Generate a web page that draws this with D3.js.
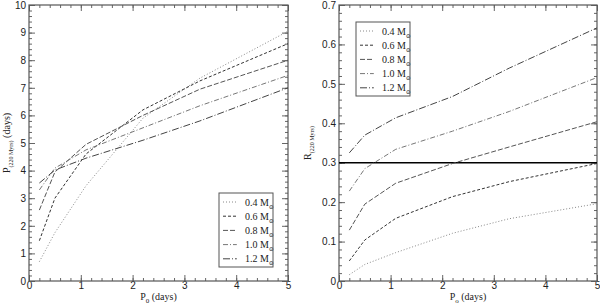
<!DOCTYPE html>
<html>
<head>
<meta charset="utf-8">
<script src="https://cdn.jsdelivr.net/npm/d3@7"></script>
<style>
  body { margin: 0; background: #fff; }
  svg { font-family: "Liberation Serif", "DejaVu Serif", serif; }
  .tick text { font-size: 10px; fill: #222; }
</style>
</head>
<body>
<svg id="chart" width="600" height="306"></svg>
<script>
// initial periods (days)
const p0 = [0.2, 0.5, 1.1, 2.2, 3.3, 5];

const masses = ['0.4', '0.6', '0.8', '1.0', '1.2'];

// P at 220 Myrs (days), one array per mass
const period04 = [0.7, 1.75, 3.45, 5.9, 7.35, 9.05];
const period06 = [1.46, 3.0, 4.6, 6.2, 7.25, 8.6];
const period08 = [2.57, 3.95, 4.95, 6.0, 6.95, 8.0];
const period10 = [3.3, 4.09, 4.75, 5.55, 6.35, 7.45];
const period12 = [3.55, 4.02, 4.45, 5.1, 5.8, 7.0];

// R at 220 Myrs
const ratio04 = [0.016, 0.042, 0.072, 0.121, 0.158, 0.196];
const ratio06 = [0.051, 0.104, 0.159, 0.214, 0.252, 0.298];
const ratio08 = [0.129, 0.195, 0.248, 0.298, 0.34, 0.404];
const ratio10 = [0.228, 0.285, 0.334, 0.38, 0.43, 0.516];
const ratio12 = [0.325, 0.37, 0.414, 0.468, 0.54, 0.642];

const rLimit = 0.3;

// line styles per mass
const styles = [
  { dash: '1,2', color: '#888' },
  { dash: '3,2', color: '#333' },
  { dash: '5,2', color: '#555' },
  { dash: '5,2,1,2', color: '#777' },
  { dash: '7,2,1,2', color: '#444' }
];

const svg = d3.select('#chart');

const panel = (opts) => {
  const g = svg.append('g');
  const x = d3.scaleLinear().domain([0, 5]).range([opts.x0, opts.x1]);
  const y = d3.scaleLinear().domain([0, opts.ymax]).range([281, 5]);

  const minorX = d3.range(0, 5.0001, 0.2);
  const minorY = d3.range(0, opts.ymax + 1e-6, opts.ystep / 5);

  // inward ticks on all four sides
  g.append('g').attr('transform', 'translate(0,281)')
    .call(d3.axisBottom(x).tickValues(minorX).tickSize(-3).tickFormat(''));
  g.append('g').attr('transform', 'translate(0,281)')
    .call(d3.axisBottom(x).ticks(5).tickSize(-6).tickPadding(1).tickFormat(d3.format('d')));
  g.append('g').attr('transform', 'translate(0,5)')
    .call(d3.axisTop(x).tickValues(minorX).tickSize(-3).tickFormat(''));
  g.append('g').attr('transform', 'translate(0,5)')
    .call(d3.axisTop(x).ticks(5).tickSize(-6).tickFormat(''));
  g.append('g').attr('transform', `translate(${opts.x0},0)`)
    .call(d3.axisLeft(y).tickValues(minorY).tickSize(-3).tickFormat(''));
  g.append('g').attr('transform', `translate(${opts.x0},0)`)
    .call(d3.axisLeft(y).tickValues(d3.range(0, opts.ymax + 1e-6, opts.ystep))
      .tickSize(-6).tickPadding(3).tickFormat(opts.fmt));
  g.append('g').attr('transform', `translate(${opts.x1},0)`)
    .call(d3.axisRight(y).tickValues(minorY).tickSize(-3).tickFormat(''));
  g.append('g').attr('transform', `translate(${opts.x1},0)`)
    .call(d3.axisRight(y).tickValues(d3.range(0, opts.ymax + 1e-6, opts.ystep))
      .tickSize(-6).tickFormat(''));

  g.selectAll('.domain').remove();
  g.selectAll('.tick line').attr('stroke', '#666');

  g.append('rect')
    .attr('x', opts.x0).attr('y', 5)
    .attr('width', opts.x1 - opts.x0).attr('height', 276)
    .attr('fill', 'none').attr('stroke', '#555').attr('stroke-width', 1.2);

  if (opts.hline !== undefined) {
    g.append('line')
      .attr('x1', x(0)).attr('x2', x(5))
      .attr('y1', y(opts.hline)).attr('y2', y(opts.hline))
      .attr('stroke', '#000').attr('stroke-width', 1.5);
  }

  const line = d3.line().x((d, i) => x(p0[i])).y(d => y(d));
  g.selectAll('.series').data(opts.series).enter()
    .append('path')
      .attr('class', 'series')
      .attr('d', d => line(d))
      .attr('fill', 'none')
      .attr('stroke', (d, i) => styles[i].color)
      .attr('stroke-dasharray', (d, i) => styles[i].dash)
      .attr('stroke-width', 1);

  // legend
  const lg = g.append('g').attr('transform', `translate(${opts.lx},${opts.ly})`);
  lg.append('rect').attr('width', opts.lw).attr('height', 74)
    .attr('fill', '#fff').attr('stroke', '#555').attr('stroke-width', 1);
  const item = lg.selectAll('.item').data(masses).enter()
    .append('g').attr('transform', (d, i) => `translate(0,${9 + i * 14.2})`);
  item.append('line')
    .attr('x1', 4).attr('x2', opts.lw * 0.33)
    .attr('stroke', (d, i) => styles[i].color)
    .attr('stroke-dasharray', (d, i) => styles[i].dash);
  const t = item.append('text')
    .attr('x', opts.lw * 0.48).attr('y', 3.5)
    .attr('font-size', 10).attr('fill', '#222');
  t.append('tspan').text(d => d + ' M');
  t.append('tspan').attr('dy', 3).attr('font-size', 6).text('\u2299');

  // x title
  const xt = g.append('text')
    .attr('x', (opts.x0 + opts.x1) / 2).attr('y', 300)
    .attr('text-anchor', 'middle').attr('font-size', 10).attr('fill', '#222');
  xt.append('tspan').text('P');
  xt.append('tspan').attr('dy', 3).attr('font-size', 7).text(opts.sub);
  xt.append('tspan').attr('dy', -3).text(' (days)');

  // y title
  const yt = g.append('text')
    .attr('transform', `translate(${opts.yx},143) rotate(-90)`)
    .attr('text-anchor', 'middle').attr('font-size', 10).attr('fill', '#222');
  yt.append('tspan').text(opts.ylab);
  yt.append('tspan').attr('dy', 3).attr('font-size', 6).text('(220 Myrs)');
  yt.append('tspan').attr('dy', -3).text(opts.yunit);
};

panel({
  x0: 29, x1: 288, ymax: 10, ystep: 1, fmt: d3.format('d'),
  series: [period04, period06, period08, period10, period12],
  lx: 219, ly: 193, lw: 54, sub: '0',
  ylab: 'P', yunit: ' (days)', yx: 10
});

panel({
  x0: 339, x1: 597, ymax: 0.7, ystep: 0.1, fmt: d => d === 0 ? '0' : d3.format('.1f')(d),
  series: [ratio04, ratio06, ratio08, ratio10, ratio12],
  hline: rLimit,
  lx: 356, ly: 22, lw: 54, sub: 'o',
  ylab: 'R', yunit: '', yx: 311
});
</script>
</body>
</html>
